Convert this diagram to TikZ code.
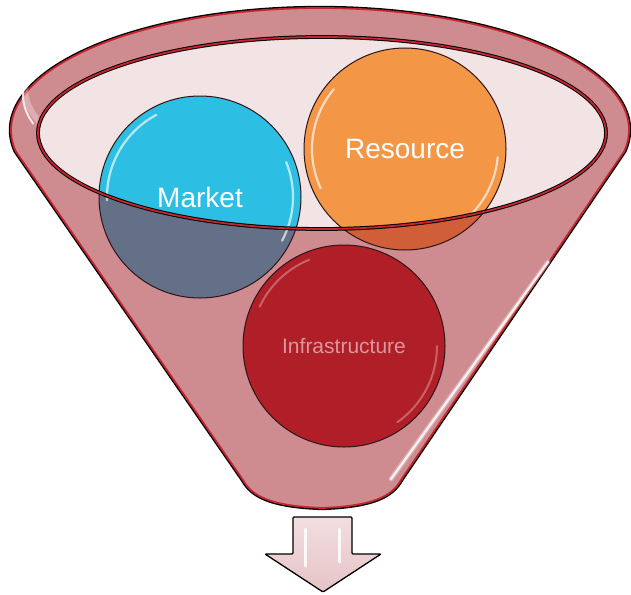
\documentclass[tikz,border=0pt]{standalone}
\usepackage{fontspec}
\setmainfont{Liberation Sans}
\usetikzlibrary{calc}

\definecolor{rim}{RGB}{206,139,144}
\definecolor{bowl}{RGB}{242,228,229}
\definecolor{edgered}{RGB}{196,38,48}
\definecolor{mkt}{RGB}{45,191,227}
\definecolor{mktlow}{RGB}{100,112,135}
\definecolor{res}{RGB}{243,150,70}
\definecolor{reslow}{RGB}{208,94,56}
\definecolor{infra}{RGB}{176,31,40}
\definecolor{infratext}{RGB}{218,150,156}
\definecolor{arrowtop}{RGB}{242,222,224}
\definecolor{arrowbot}{RGB}{230,195,198}
\definecolor{balledge}{RGB}{45,20,22}

\tikzset{
  ball/.style={circle, minimum size=202pt, inner sep=0pt},
  ballrim/.style={draw=balledge, line width=1pt},
  gloss/.style={draw=white, line width=2.2pt, line cap=round, opacity=0.65},
  softgloss/.style={draw=white, line width=2pt, line cap=round, opacity=0.3},
  lbl/.style={text=white, font=\fontsize{28}{30}\selectfont},
  lblsmall/.style={text=infratext, font=\fontsize{21}{23}\selectfont},
}

\begin{document}
\begin{tikzpicture}[x=1pt,y=-1pt]
\useasboundingbox (0,0) rectangle (631,594);

% funnel body: outer rim ellipse joined to the cone
\path[fill=rim, preaction={draw=black, line width=4.4pt}, draw=edgered, line width=1.8pt, line join=round]
  (624.3,151.2) arc[start angle=10, end angle=-190, x radius=309, y radius=122]
  -- (243,480) .. controls (252,496) and (270,506) .. (322,508)
  .. controls (374,506) and (392,496) .. (401,480) -- cycle;

% glossy streaks on the rim and the cone
\draw[gloss, line width=6pt, opacity=0.3] (321,131) ++(193:296) arc[start angle=193, end angle=162, x radius=296, y radius=108];
\draw[gloss, line width=2pt, opacity=0.8] (321,131) ++(191:298) arc[start angle=191, end angle=165, x radius=298, y radius=110];
\draw[gloss, line width=5pt, opacity=0.3] (548,262) -- (391,479);
\draw[gloss, line width=2.2pt, opacity=0.85] (548,262) -- (391,479);

% mouth of the funnel
\fill[bowl] (322,133) ellipse [x radius=284, y radius=96];

% upper balls
\node[ball, fill=mkt] (mkt) at (200,197) {};
\node[ball, fill=res] (res) at (405,149) {};

% parts of the balls seen through the front of the cone
\begin{scope}
  \clip (mkt.center) circle (101);
  \fill[mktlow, even odd rule] (0,0) rectangle (631,594) (322,133) ellipse [x radius=284, y radius=96];
\end{scope}
\begin{scope}
  \clip (res.center) circle (101);
  \fill[reslow, even odd rule] (0,0) rectangle (631,594) (322,133) ellipse [x radius=284, y radius=96];
\end{scope}

\draw[ballrim] (mkt.center) circle (101);
\draw[ballrim] (res.center) circle (101);

% highlights on the upper balls
\draw[gloss] (mkt.center) ++(-118:93) arc[start angle=-118, end angle=-182, radius=93];
\draw[gloss] (mkt.center) ++(-22:93) arc[start angle=-22, end angle=28, radius=93];
\draw[gloss] (res.center) ++(-140:93) arc[start angle=-140, end angle=-205, radius=93];
\draw[gloss] (res.center) ++(5:93) arc[start angle=5, end angle=45, radius=93];

% rim of the mouth
\draw[edgered, line width=1.8pt, preaction={draw=black, line width=3.8pt}] (322,133) ellipse [x radius=284, y radius=96];

% lower ball
\node[ball, fill=infra] (infra) at (344,346) {};
\draw[ballrim] (infra.center) circle (101);
\draw[softgloss] (infra.center) ++(-112:93) arc[start angle=-112, end angle=-155, radius=93];
\draw[softgloss] (infra.center) ++(0:93) arc[start angle=0, end angle=55, radius=93];

% labels
\node[lbl] (mkt-label) at (mkt.center) {Market};
\node[lbl] (res-label) at (res.center) {Resource};
\node[lblsmall] (infra-label) at (infra.center) {Infrastructure};

% outlet arrow
\path[top color=arrowtop, bottom color=arrowbot, draw=black, line width=1.3pt, rounded corners=1pt]
  (293,517) -- (352,517) -- (352,554) -- (381,554) -- (323,592) -- (265,554) -- (293,554) -- cycle;
\draw[gloss, line width=3pt, opacity=0.85] (305,529) -- (305,566);
\draw[gloss, line width=3pt, opacity=0.85] (339,529) -- (339,562);
\end{tikzpicture}
\end{document}
